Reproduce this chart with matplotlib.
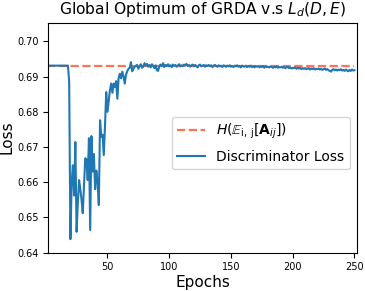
import numpy as np
import matplotlib
matplotlib.use("Agg")
import matplotlib.pyplot as plt

# entropy of the mean adjacency (ln 2)
H_VALUE = 0.6931

# discriminator loss per epoch
loss_early = [0.6931] * 18 + [
    0.6885, 0.6438, 0.6598, 0.6648, 0.6562, 0.6714, 0.6459, 0.6540, 0.6606, 0.6580,
    0.6550, 0.6512, 0.6590, 0.6668, 0.6665, 0.6606, 0.6725, 0.6464, 0.6731, 0.6630,
    0.6680, 0.6580, 0.6633, 0.6600, 0.6535, 0.6776, 0.6729, 0.6735, 0.6677, 0.6760,
    0.6856, 0.6800, 0.6830, 0.6861, 0.6880, 0.6854, 0.6880, 0.6870, 0.6887, 0.6837,
    0.6895, 0.6908, 0.6895, 0.6914, 0.6900, 0.6880, 0.6905, 0.6915, 0.6922, 0.6925,
    0.6941, 0.6915, 0.6922, 0.6928, 0.6930, 0.6933, 0.6922, 0.6930, 0.6935, 0.6925,
    0.6928, 0.6938,
]
loss_late = [
    0.6931, 0.6936, 0.6928, 0.6933, 0.6926, 0.6935, 0.6930, 0.6924, 0.6932, 0.6918,
    0.6916, 0.6930, 0.6934, 0.6929, 0.6938, 0.6927, 0.6933, 0.6930, 0.6935, 0.6929,
    0.6932, 0.6927, 0.6934, 0.6930, 0.6933, 0.6928, 0.6931, 0.6935, 0.6929, 0.6932,
    0.6930, 0.6934, 0.6931, 0.6936, 0.6930, 0.6933, 0.6928, 0.6932, 0.6934, 0.6929,
    0.6933, 0.6930, 0.6926, 0.6932, 0.6934, 0.6929, 0.6931, 0.6933, 0.6928, 0.6932,
    0.6930, 0.6933, 0.6929, 0.6932, 0.6927, 0.6931, 0.6933, 0.6930, 0.6928, 0.6932,
    0.6929, 0.6931, 0.6927, 0.6932, 0.6930, 0.6928, 0.6931, 0.6929, 0.6932, 0.6928,
    0.6930, 0.6927, 0.6931, 0.6929, 0.6932, 0.6928, 0.6930, 0.6926, 0.6931, 0.6929,
    0.6928, 0.6931, 0.6927, 0.6930, 0.6928, 0.6931, 0.6927, 0.6929, 0.6926, 0.6930,
    0.6928, 0.6930, 0.6926, 0.6929, 0.6927, 0.6930, 0.6925, 0.6929, 0.6927, 0.6928,
    0.6926, 0.6929, 0.6927, 0.6925, 0.6928, 0.6926, 0.6929, 0.6925, 0.6927, 0.6926,
    0.6928, 0.6925, 0.6927, 0.6924, 0.6926, 0.6928, 0.6924, 0.6926, 0.6923, 0.6925,
    0.6924, 0.6926, 0.6922, 0.6925, 0.6923, 0.6925, 0.6921, 0.6924, 0.6922, 0.6924,
    0.6921, 0.6923, 0.6924, 0.6920, 0.6923, 0.6921, 0.6924, 0.6920, 0.6922, 0.6921,
    0.6923, 0.6920, 0.6922, 0.6919, 0.6921, 0.6923, 0.6919, 0.6921, 0.6918, 0.6916,
    0.6914, 0.6919, 0.6921, 0.6918, 0.6920, 0.6917, 0.6920, 0.6918, 0.6921, 0.6917,
    0.6919, 0.6916, 0.6920, 0.6917, 0.6915, 0.6919, 0.6916, 0.6920, 0.6917, 0.6918,
]
loss = loss_early + loss_late
epochs = np.arange(1, len(loss) + 1)

x_ticks = [50, 100, 150, 200, 250]
y_ticks = [0.64, 0.65, 0.66, 0.67, 0.68, 0.69, 0.70]

fig = plt.figure(figsize=(3.65, 2.91), dpi=100)
ax = fig.add_axes([0.132, 0.132, 0.846, 0.79])

ax.plot(epochs, [H_VALUE] * len(epochs), '--', color='tomato', alpha=0.9, lw=1.6,
        label=r'$H(\mathbb{E}_{\mathrm{i,\,j}}[\mathbf{A}_{ij}])$')
ax.plot(epochs, loss, color='#1f77b4', lw=1.5, label='Discriminator Loss')

ax.set_xlim(2, 252)
ax.set_ylim(0.64, 0.7053)
ax.set_xticks(x_ticks)
ax.set_yticks(y_ticks)
ax.set_yticklabels(['%.2f' % v for v in y_ticks])
ax.tick_params(labelsize=7)

ax.set_title(r'Global Optimum of GRDA v.s $L_d(D, E)$', fontsize=11.2)
ax.set_xlabel('Epochs', fontsize=11, labelpad=2)
ax.set_ylabel('Loss', fontsize=11, labelpad=2)
ax.legend(loc='center right', bbox_to_anchor=(1.0, 0.477), fontsize=10,
          labelspacing=0.6)

fig.savefig('out.png', dpi=100)
